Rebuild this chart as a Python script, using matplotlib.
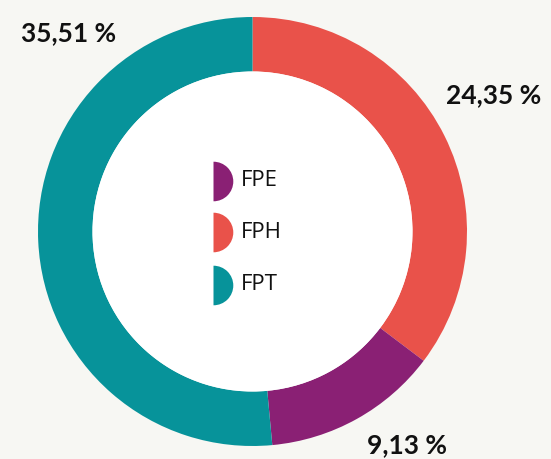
import matplotlib
matplotlib.use("Agg")
import matplotlib.pyplot as plt
from matplotlib.patches import Circle

# =========================
# Dane
# =========================

categories = ["FPH", "FPE", "FPT"]
values = [24.35, 9.13, 35.51]
colors = ["#e9524a", "#8a2074", "#07939a"]
value_labels = ["24,35 %", "9,13 %", "35,51 %"]

legend_order = ["FPE", "FPH", "FPT"]

# =========================
# Wykres
# =========================

fig = plt.figure(figsize=(5.51, 4.59), dpi=100)
fig.patch.set_facecolor("#f7f7f3")
ax = fig.add_axes([0, 0, 1, 1])
ax.set_facecolor("#f7f7f3")

cx, cy = 252.5, 227.5
r_out = 214.5
r_in = 160

ax.pie(values, colors=colors, startangle=90, counterclock=False,
       radius=r_out, center=(cx, cy),
       wedgeprops=dict(width=r_out - r_in, edgecolor="none", linewidth=0))
ax.add_patch(Circle((cx, cy), r_in, facecolor="white", edgecolor="none", zorder=3))

# etykiety wartości
label_pos = {"FPH": (494, 364), "FPE": (407, 14), "FPT": (69, 426)}
for cat, lab in zip(categories, value_labels):
    x, y = label_pos[cat]
    ax.text(x, y, lab, ha="center", va="center", fontsize=19,
            fontweight="bold", family="Lato", color="#111111", zorder=5)

# legenda w środku
color_of = dict(zip(categories, colors))
leg_y = [278, 227, 174.5]
for cat, y in zip(legend_order, leg_y):
    ax.plot(213, y, marker="o", markersize=28.5, fillstyle="right",
            markerfacecolor=color_of[cat], markerfacecoloralt="none",
            markeredgewidth=0, zorder=6)
    ax.text(241, y, cat, ha="left", va="center", fontsize=16,
            family="Open Sans", color="#111111", zorder=6)

ax.set_xlim(0, 551)
ax.set_ylim(0, 459)
ax.set_aspect("equal")
ax.set_axis_off()

fig.savefig("out.png", dpi=100, facecolor=fig.get_facecolor())
